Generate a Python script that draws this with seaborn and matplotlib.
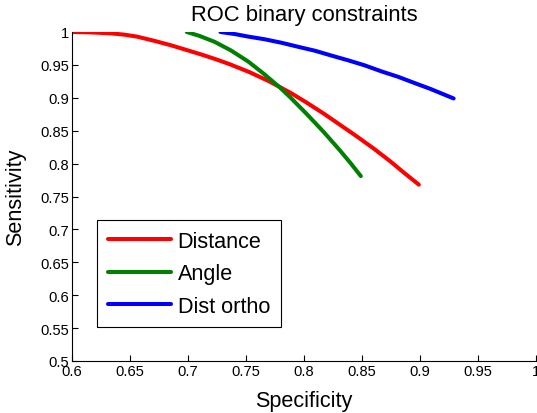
import matplotlib
matplotlib.use("Agg")
import matplotlib.pyplot as plt
import numpy as np
import pandas as pd
import seaborn as sns

# points
distance_spec = [0.600, 0.615, 0.633, 0.645, 0.656, 0.670, 0.685, 0.700, 0.713, 0.725, 0.736,
                 0.753, 0.770, 0.788, 0.802, 0.817, 0.831, 0.845, 0.860, 0.874, 0.887, 0.899]
distance_sens = [1.000, 0.9995, 0.998, 0.996, 0.993, 0.987, 0.980, 0.972, 0.965, 0.958, 0.951,
                 0.939, 0.925, 0.908, 0.893, 0.876, 0.859, 0.842, 0.823, 0.804, 0.785, 0.768]

angle_spec = [0.699, 0.710, 0.723, 0.737, 0.752, 0.765, 0.779, 0.788, 0.802, 0.817, 0.831, 0.840, 0.849]
angle_sens = [1.000, 0.994, 0.985, 0.972, 0.955, 0.937, 0.916, 0.901, 0.876, 0.848, 0.820, 0.801, 0.781]

ortho_spec = [0.728, 0.740, 0.752, 0.766, 0.781, 0.795, 0.8095, 0.824, 0.838, 0.852,
              0.867, 0.881, 0.896, 0.909, 0.929]
ortho_sens = [1.000, 0.997, 0.993, 0.989, 0.9835, 0.9775, 0.9715, 0.964, 0.957, 0.9495,
              0.940, 0.932, 0.922, 0.9135, 0.899]

series = ["Distance", "Angle", "Dist ortho"]
colors = ["#ff0000", "#008000", "#0000ff"]

x_ticks = [0.6, 0.65, 0.7, 0.75, 0.8, 0.85, 0.9, 0.95, 1]
y_ticks = [0.5, 0.55, 0.6, 0.65, 0.7, 0.75, 0.8, 0.85, 0.9, 0.95, 1]


def build_frame():
    parts = []
    for name, xs, ys in zip(series,
                            [distance_spec, angle_spec, ortho_spec],
                            [distance_sens, angle_sens, ortho_sens]):
        parts.append(pd.DataFrame({"Specificity": xs, "Sensitivity": ys, "method": name}))
    return pd.concat(parts, ignore_index=True)


def main():
    sns.set_style("ticks", {"text.color": "black", "axes.labelcolor": "black",
                            "xtick.color": "black", "ytick.color": "black",
                            "axes.edgecolor": "black"})
    plt.rcParams["font.family"] = ["Liberation Sans", "DejaVu Sans"]

    fig = plt.figure(figsize=(5.37, 4.14), dpi=100)
    ax = fig.add_axes([72 / 537, 1 - 362 / 414, 464 / 537, 329 / 414])

    data = build_frame()
    sns.lineplot(data=data, x="Specificity", y="Sensitivity", hue="method",
                 hue_order=series, palette=colors, sort=False,
                 linewidth=2.9, ax=ax)

    ax.set_xlim(0.6, 1)
    ax.set_ylim(0.5, 1)
    ax.set_xticks(x_ticks)
    ax.set_xticklabels(["%g" % v for v in x_ticks])
    ax.set_yticks(y_ticks)
    ax.set_yticklabels(["%g" % v for v in y_ticks])
    ax.tick_params(direction="in", length=4, width=0.8, labelsize=10.6, pad=2)

    ax.spines["top"].set_visible(False)
    ax.spines["right"].set_visible(False)
    for side in ("left", "bottom"):
        ax.spines[side].set_linewidth(0.8)

    ax.set_title("ROC binary constraints", fontsize=15.8, pad=9)
    ax.set_xlabel("Specificity", fontsize=15.6, labelpad=9)
    ax.set_ylabel("Sensitivity", fontsize=15.6, labelpad=10)

    leg = ax.legend(loc="upper left", bbox_to_anchor=(0.054, 0.428), borderaxespad=0,
                    fontsize=15.6, frameon=True, fancybox=False, framealpha=1,
                    edgecolor="black", handlelength=2.9, handletextpad=0.32,
                    labelspacing=0.52, borderpad=0.5, title=None)
    leg.get_frame().set_linewidth(0.8)
    for line in leg.get_lines():
        line.set_linewidth(2.9)

    fig.savefig("out.png", dpi=100)


if __name__ == "__main__":
    main()
